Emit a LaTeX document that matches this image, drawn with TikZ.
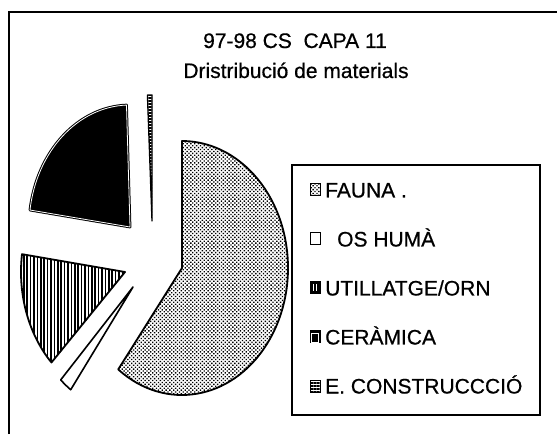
\documentclass[tikz,border=0pt]{standalone}
\usepackage{fontspec}
\setmainfont[FakeBold=0.6]{Liberation Sans}
\usetikzlibrary{patterns,patterns.meta}
\begin{document}
\begin{tikzpicture}[x=1pt,y=1pt,
  slice/.style={draw=black,line width=1.8pt,line join=round},
  faunafill/.style={pattern={Dots[distance=2.7pt,radius=0.95pt,angle=45]},pattern color=black},
  utilfill/.style={pattern={Lines[angle=90,distance=3.4pt,line width=1.6pt]},pattern color=black},
  constfill/.style={pattern={Lines[angle=0,distance=3pt,line width=1.3pt]},pattern color=black},
  cerfill/.style={fill=black,draw=black,line width=1pt,double=white,double distance=0.8pt,line join=round},
  legtext/.style={anchor=base west,inner sep=0pt,font=\fontsize{21}{24}\selectfont},
  swatch/.style={draw=black,line width=1pt,minimum width=10pt,minimum height=12pt,inner sep=0pt},
  titletext/.style={anchor=base,inner sep=0pt,font=\fontsize{21}{24}\selectfont}]
\useasboundingbox (0,0) rectangle (557,434);
% frame
\coordinate (frB) at (9,0);
\coordinate (frC) at (9,422);
\coordinate (frR) at (557,422);
\draw[line width=1.2pt] (frB) -- (frC) -- (frR);
% titles
\node[titletext] (t1) at (295,386) {97-98 CS\ \ CAPA 11};
\node[titletext] (t2) at (296,356) {Dristribució de materials};
% apexes
\coordinate (fa) at (182,166);
\coordinate (os) at (133,147);
\coordinate (ut) at (125,162);
\coordinate (ce) at (130,207);
\coordinate (co) at (152,213);
% fauna
\fill[white] (fa) -- ++(-127:106pt and 127pt) arc[start angle=-127,end angle=90,x radius=106pt,y radius=127pt] -- cycle;
\draw[slice,faunafill] (fa) -- ++(-127:106pt and 127pt) arc[start angle=-127,end angle=90,x radius=106pt,y radius=127pt] -- cycle;
% os huma
\draw[slice,fill=white,line width=1.6pt] (os) -- ++(227:106pt and 127pt) arc[start angle=227,end angle=234,x radius=106pt,y radius=127pt] -- cycle;
% utillatge
\fill[white] (ut) -- ++(172:104pt and 128pt) arc[start angle=172,end angle=225,x radius=104pt,y radius=128pt] -- cycle;
\draw[slice,utilfill] (ut) -- ++(172:104pt and 128pt) arc[start angle=172,end angle=225,x radius=104pt,y radius=128pt] -- cycle;
% ceramica
\draw[cerfill] (ce) -- ++(92:101pt and 122pt) arc[start angle=92,end angle=172,x radius=101pt,y radius=122pt] -- cycle;
% construccio
\draw[slice,fill=white,line width=1.3pt] (co) -- ++(90:105pt and 126pt) arc[start angle=90,end angle=92.5,x radius=105pt,y radius=126pt] -- cycle;
\fill[constfill] (co) -- ++(90:105pt and 126pt) arc[start angle=90,end angle=92.5,x radius=105pt,y radius=126pt] -- cycle;
% legend
\node[draw=black,line width=1.2pt,minimum width=248pt,minimum height=250pt,inner sep=0pt] (leg) at (416,144) {};
\node[swatch,faunafill] (s1) at (315,244) {};
\node[swatch,fill=white] (s2) at (315,195) {};
\node[swatch,fill=black] (s3) at (315,146) {};
\draw[white,line width=0.8pt] (s3.north) ++(-1.5,-2.5) -- ++(0,-7) ++(3,0) -- ++(0,7);
\node[swatch,fill=black] (s4) at (315,97) {};
\draw[white,line width=0.6pt] (s4.south west) ++(1.6,1.6) rectangle ++(6.8,8.8);
\node[swatch,constfill] (s5) at (315,48) {};
\node[legtext] (l1) at (325,236.5) {FAUNA .};
\node[legtext] (l2) at (337,187.5) {OS HUMÀ};
\node[legtext] (l3) at (325,138.5) {UTILLATGE/ORN};
\node[legtext] (l4) at (325,89.5) {CERÀMICA};
\node[legtext] (l5) at (325,40.5) {E. CONSTRUCCCIÓ};
\end{tikzpicture}
\end{document}
